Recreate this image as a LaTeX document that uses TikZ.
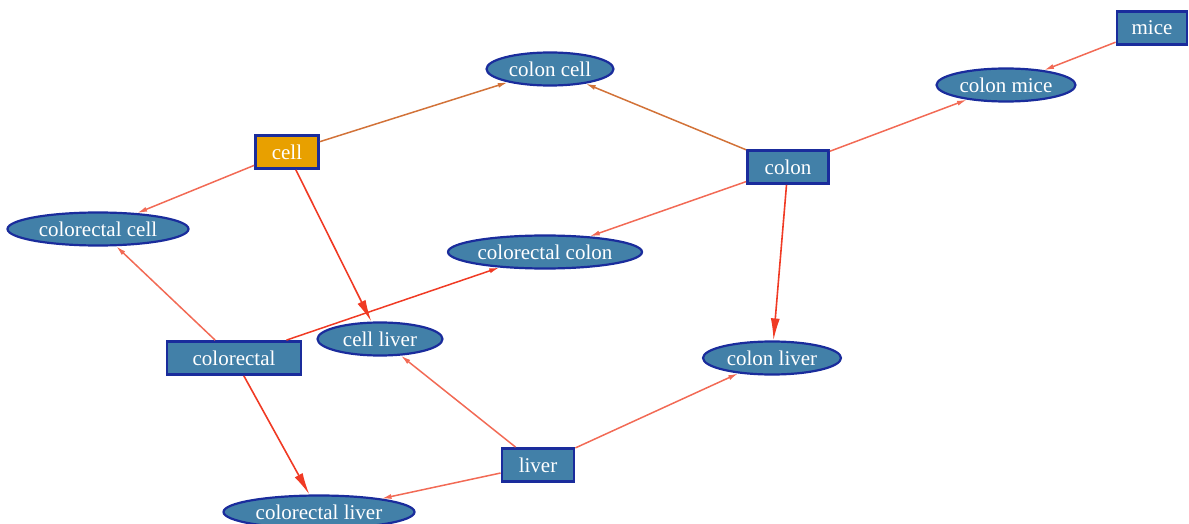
\documentclass[tikz,border=0pt]{standalone}
\usepackage{fontspec}
\setmainfont{Liberation Serif}
\usetikzlibrary{arrows.meta,shapes.geometric}
\definecolor{steel}{HTML}{4280A8}
\definecolor{frame}{HTML}{1A2C9C}
\definecolor{amber}{HTML}{E8A000}
\definecolor{salmon}{HTML}{F26A55}
\definecolor{rust}{HTML}{D27238}
\definecolor{scarlet}{HTML}{F03A24}
\tikzset{
  every picture/.style={x=1pt, y=-1pt, font=\rmfamily\fontsize{21}{24}\selectfont},
  word/.style={rectangle, draw=frame, fill=steel, text=white, line width=2.8pt, minimum height=33pt, inner sep=2pt},
  phrase/.style={ellipse, draw=frame, fill=steel, text=white, line width=2.2pt, minimum height=33pt, inner sep=1pt},
  link/.style={draw=salmon, line width=1.5pt, -{Latex[length=10pt, width=5pt]}},
  tie/.style={link, draw=rust},
  main/.style={draw=scarlet, line width=1.6pt, -{Latex[length=22pt, width=9pt]}},
}
\begin{document}
\begin{tikzpicture}
\useasboundingbox (0,0) rectangle (1189,524);
\node[word, minimum width=70pt] (mice) at (1152,28) {mice};
\node[phrase, minimum width=139pt] (colonmice) at (1006,85) {colon mice};
\node[phrase, minimum width=127pt] (coloncell) at (550,69) {colon cell};
\node[word, fill=amber, minimum width=63pt] (cell) at (287,152) {cell};
\node[word, minimum width=81pt] (colon) at (788,167) {colon};
\node[phrase, minimum width=181pt] (colorectalcell) at (98,229) {colorectal cell};
\node[phrase, minimum width=194pt] (colorectalcolon) at (545,252) {colorectal colon};
\node[word, minimum width=134pt] (colorectal) at (234,358) {colorectal};
\node[phrase, minimum width=125pt] (cellliver) at (380,339) {cell liver};
\node[phrase, minimum width=138pt] (colonliver) at (772,358) {colon liver};
\node[word, minimum width=72pt] (liver) at (538,465) {liver};
\node[phrase, minimum width=191pt] (colorectalliver) at (319,512) {colorectal liver};
\draw[tie] (cell) -- (coloncell);
\draw[tie] (colon) -- (coloncell);
\draw[link] (mice) -- (colonmice);
\draw[link] (colon) -- (colonmice);
\draw[link] (cell) -- (colorectalcell);
\draw[link] (colorectal) -- (colorectalcell);
\draw[link] (colon) -- (colorectalcolon);
\draw[link, draw=scarlet] (colorectal) -- (colorectalcolon);
\draw[main] (cell) -- (cellliver);
\draw[link] (liver) -- (cellliver);
\draw[main] (colon) -- (colonliver);
\draw[link] (liver) -- (colonliver);
\draw[main] (colorectal) -- (colorectalliver);
\draw[link] (liver) -- (colorectalliver);
\end{tikzpicture}
\end{document}
